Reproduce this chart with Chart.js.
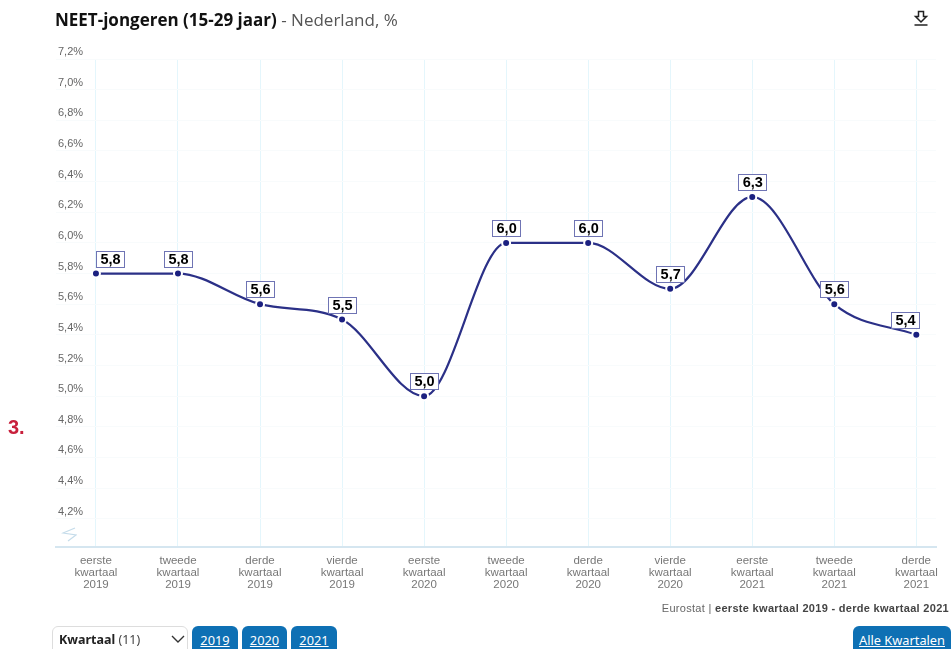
<!DOCTYPE html>
<html lang="nl">
<head>
<meta charset="utf-8">
<title>NEET-jongeren</title>
<script src="https://cdn.jsdelivr.net/npm/chart.js@4"></script>
<style>
    html, body { margin: 0; padding: 0; background: #fff; overflow: hidden; }
    #wrap { position: relative; width: 951px; height: 649px; overflow: hidden; }
    #grafiek { position: absolute; left: 0; top: 0; }
    .tekst { position: absolute; white-space: nowrap; }
    #titel { left: 55px; top: 8px; font: 17px "Open Sans", sans-serif; color: #555; }
    #titel b { color: #111; }
    #nummer { left: 8px; top: 416px; font: bold 20px "Liberation Sans", sans-serif; color: #c8203c; }
    #bron { right: 2px; top: 602px; font: 11px "Liberation Sans", sans-serif; color: #666; letter-spacing: 0.3px; }
    #bron b { color: #444; }
    .knop { position: absolute; top: 626px; height: 30px; background: #0e70b4; color: #fff; border-radius: 6px 6px 0 0;
        font: 12.8px "Noto Sans", sans-serif; text-decoration: underline; text-align: center; line-height: 28px; }
    #keuze { position: absolute; left: 52px; top: 626px; width: 136px; height: 30px; border: 1px solid #ddd; border-radius: 6px 6px 0 0;
        font: 12.5px "Noto Sans", sans-serif; color: #444; line-height: 26px; padding-left: 6px; box-sizing: border-box; }
    #keuze b { color: #222; }
    #pijl { position: absolute; left: 170px; top: 634px; }
    #download { position: absolute; left: 913px; top: 10px; }
    #breuk { position: absolute; left: 61px; top: 526px; }
</style>
</head>
<body>
<div id="wrap">
    <canvas id="grafiek" width="951" height="649"></canvas>
    <div class="tekst" id="titel"><b>NEET-jongeren (15-29 jaar)</b> - Nederland, %</div>
    <div class="tekst" id="nummer">3.</div>
    <div class="tekst" id="bron">Eurostat | <b>eerste kwartaal 2019 - derde kwartaal 2021</b></div>
    <svg id="download" width="16" height="17" viewBox="0 0 16 17" fill="none" stroke="#222" stroke-width="1.5">
        <path d="M5.5 1.5h5v5h3L8 12 2.5 6.5h3z"/>
        <path d="M1.5 15h13"/>
    </svg>
    <svg id="breuk" width="16" height="16" viewBox="0 0 16 16" fill="none" stroke="#c5dcea" stroke-width="1.2">
        <path d="M14 2 2 7l13 2-8 6"/>
    </svg>
    <div id="keuze"><b>Kwartaal</b> (11)</div>
    <svg id="pijl" width="16" height="10" viewBox="0 0 16 10" fill="none" stroke="#333" stroke-width="1.4">
        <path d="M2 2l6 6 6-6"/>
    </svg>
    <div class="knop" style="left:192px;width:46px">2019</div>
    <div class="knop" style="left:242px;width:45px">2020</div>
    <div class="knop" style="left:291px;width:46px">2021</div>
    <div class="knop" style="left:853px;width:98px">Alle Kwartalen</div>
</div>
<script>
const kwartalen = [
    ["eerste", "kwartaal", "2019"], ["tweede", "kwartaal", "2019"], ["derde", "kwartaal", "2019"], ["vierde", "kwartaal", "2019"],
    ["eerste", "kwartaal", "2020"], ["tweede", "kwartaal", "2020"], ["derde", "kwartaal", "2020"], ["vierde", "kwartaal", "2020"],
    ["eerste", "kwartaal", "2021"], ["tweede", "kwartaal", "2021"], ["derde", "kwartaal", "2021"]
];
const waarden = [5.8, 5.8, 5.6, 5.5, 5.0, 6.0, 6.0, 5.7, 6.3, 5.6, 5.4];
const yTicks = [7.2, 7.0, 6.8, 6.6, 6.4, 6.2, 6.0, 5.8, 5.6, 5.4, 5.2, 5.0, 4.8, 4.6, 4.4, 4.2];

const komma = v => v.toFixed(1).replace(".", ",");

// waardelabels als kaders boven de punten
const labelPlugin = {
    id: "waardeLabels",
    afterDatasetsDraw(chart) {
        const { ctx, scales } = chart;
        ctx.save();
        ctx.font = "bold 14.5px 'Liberation Sans', sans-serif";
        ctx.textAlign = "center";
        ctx.textBaseline = "middle";
        waarden.forEach((v, i) => {
            const b = 28, h = 16;
            const px = scales.x.getPixelForValue(i);
            const py = scales.y.getPixelForValue(v);
            let x = px - b / 2;
            if (x < 96) x = 96;
            if (x + b > 919) x = 919 - b;
            const y = py - 7 - h;
            ctx.fillStyle = "#fff";
            ctx.strokeStyle = "#6f74b4";
            ctx.lineWidth = 1;
            ctx.fillRect(x, y, b, h);
            ctx.strokeRect(Math.round(x) + 0.5, Math.round(y) + 0.5, b, h);
            ctx.fillStyle = "#000";
            ctx.fillText(komma(v), x + b / 2 + 0.5, y + h / 2 + 1);
        });
        ctx.restore();
    }
};

new Chart(document.getElementById("grafiek").getContext("2d"), {
    type: "line",
    data: {
        datasets: [{
            data: waarden.map((v, i) => ({ x: i, y: v })),
            borderColor: "#2b3087",
            borderWidth: 2.2,
            cubicInterpolationMode: "monotone",
            pointRadius: 4,
            pointBackgroundColor: "#1b2080",
            pointBorderColor: "#fff",
            pointBorderWidth: 2,
            clip: false
        }]
    },
    options: {
        responsive: false,
        animation: false,
        layout: { padding: { left: 52, right: 15, top: 59, bottom: 50 } },
        plugins: { legend: { display: false }, tooltip: { enabled: false } },
        scales: {
            x: {
                type: "linear",
                min: -0.487,
                max: 10.24,
                afterBuildTicks: s => { s.ticks = kwartalen.map((k, i) => ({ value: i })); },
                grid: { color: "#e4f6fc", drawTicks: false },
                border: { color: "#d5e6f0", width: 2 },
                ticks: {
                    callback: v => kwartalen[v],
                    color: "#777",
                    font: { family: "'Liberation Sans', sans-serif", size: 11.5, lineHeight: 1.05 },
                    maxRotation: 0,
                    padding: 8
                }
            },
            y: {
                min: 4.017,
                max: 7.2,
                afterBuildTicks: s => { s.ticks = yTicks.map(v => ({ value: v })); },
                grid: { color: "#f8fbfc", drawTicks: false },
                border: { display: false },
                ticks: {
                    mirror: true,
                    padding: 2,
                    labelOffset: -7,
                    callback: v => komma(v) + "%",
                    color: "#666",
                    font: { family: "'Liberation Sans', sans-serif", size: 11 }
                }
            }
        }
    },
    plugins: [labelPlugin]
});
</script>
</body>
</html>
